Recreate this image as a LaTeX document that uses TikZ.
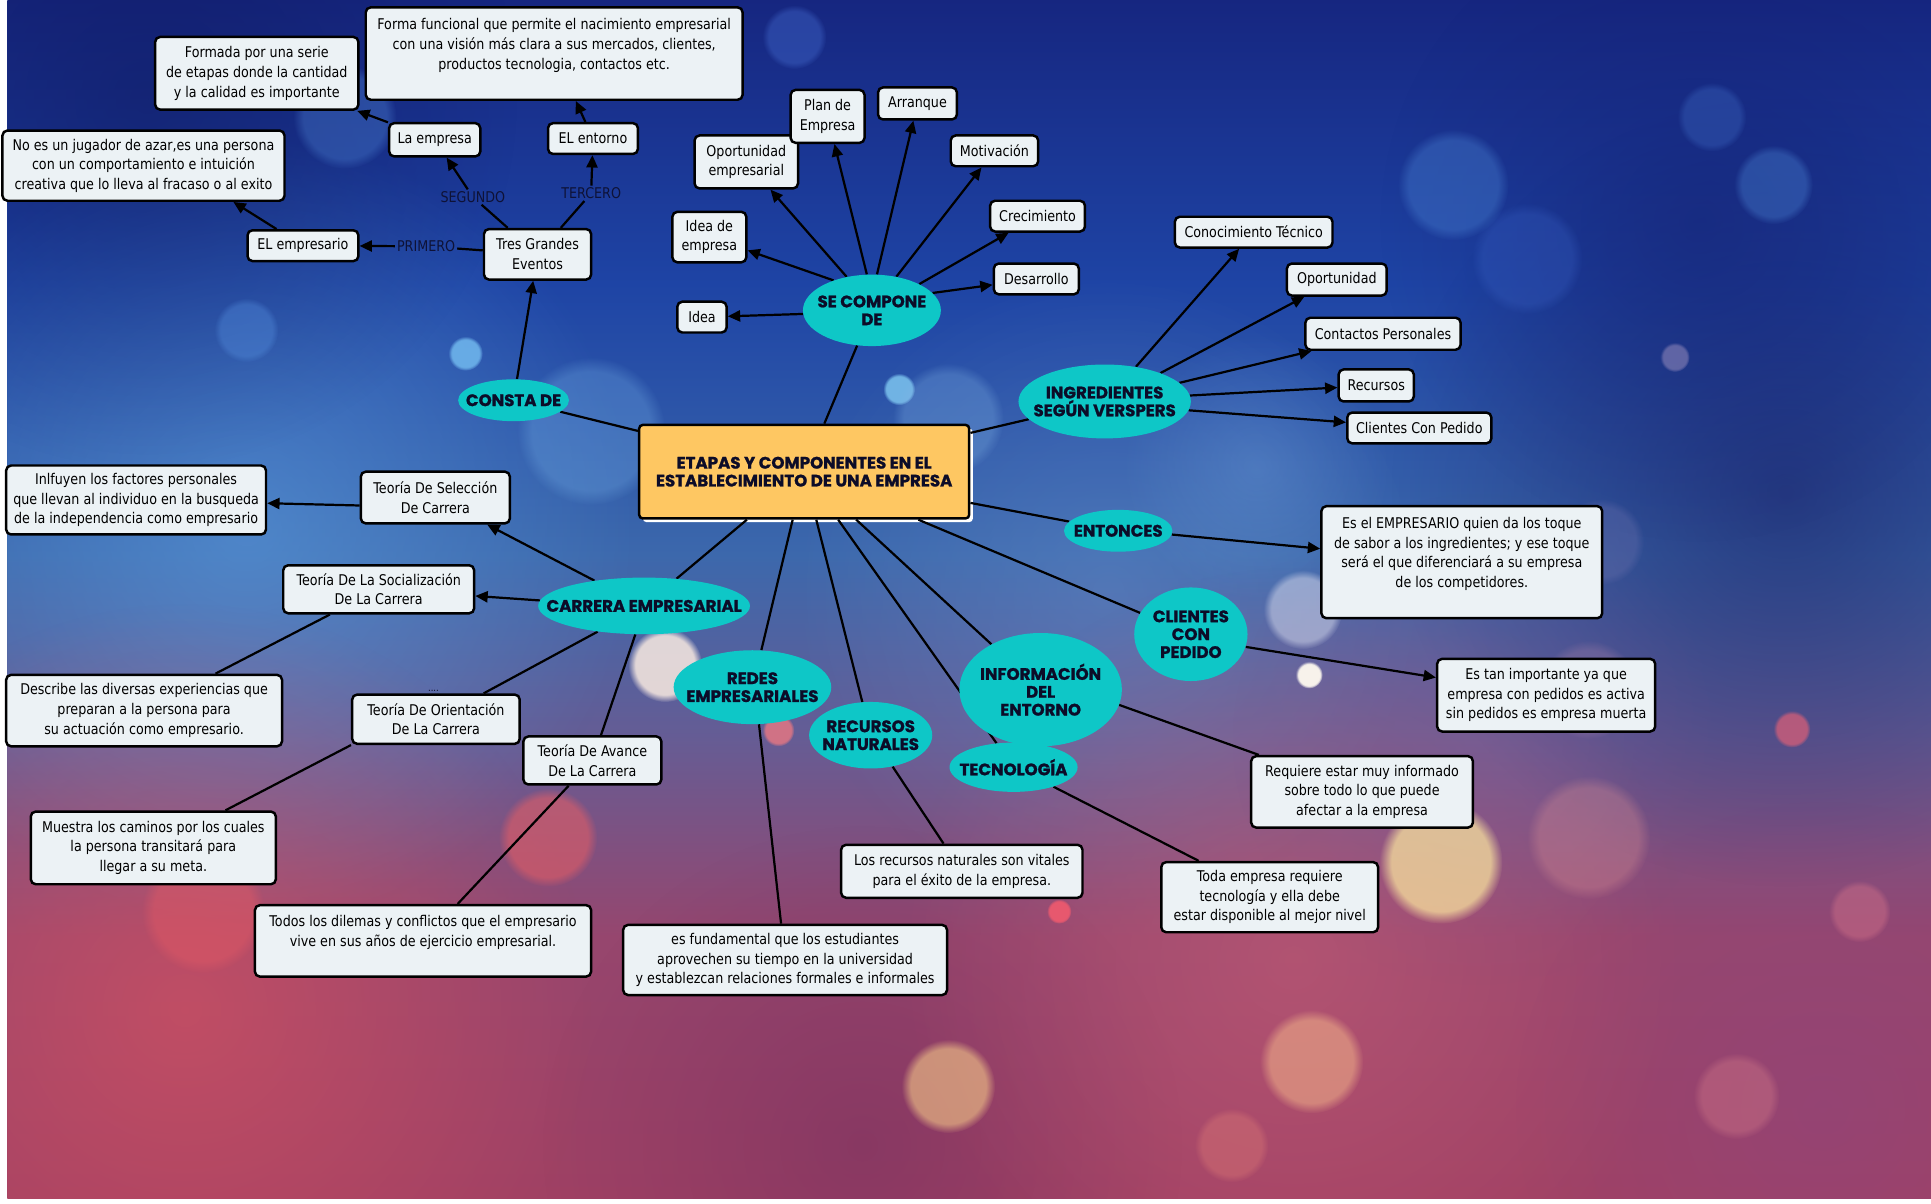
\documentclass[tikz,border=0pt]{standalone}
\usepackage{fontspec}
\setmainfont{DejaVu Sans}[FakeStretch=0.86]
\newfontfamily\elfamily{Poppins}[BoldFeatures={FakeBold=1.2}]
\usetikzlibrary{arrows.meta,shapes.geometric,fadings}
\pgfdeclareradialshading{softglowshade}{\pgfpointorigin}{color(0bp)=(pgftransparent!0); color(25bp)=(pgftransparent!100); color(50bp)=(pgftransparent!100)}
\pgfdeclarefading{softglow}{\pgfuseshading{softglowshade}}
\pgfdeclarelayer{bglayer}\pgfdeclarelayer{edgelayer}
\pgfsetlayers{bglayer,edgelayer,main}
\newcommand\boxfnt{\fontsize{12}{16}\selectfont}
\newcommand\elfnt{\elfamily\bfseries\fontsize{13.5}{14.5}\selectfont}
\newcommand\lblfnt{\fontsize{12}{13}\selectfont}
\definecolor{boxfill}{RGB}{236,242,245}
\definecolor{cy}{RGB}{14,199,199}
\definecolor{centerfill}{RGB}{254,199,98}
\definecolor{navy}{RGB}{12,12,40}
\definecolor{lblc}{RGB}{14,18,55}
\definecolor{g0}{RGB}{22,38,128}
\definecolor{g1}{RGB}{30,68,165}
\definecolor{g2}{RGB}{60,104,172}
\definecolor{g3}{RGB}{102,92,148}
\definecolor{g4}{RGB}{150,70,110}
\definecolor{g5}{RGB}{160,65,100}
\tikzset{
 tbox/.style={draw=black, line width=2pt, rounded corners=4pt, fill=boxfill, inner sep=0pt, align=center, font=\boxfnt, text=black},
 oval/.style={ellipse, fill=cy, inner sep=0pt, draw=none},
 ovtext/.style={font=\elfnt, text=navy, align=center, inner sep=0pt},
 arr/.style={line width=1.8pt, draw=black, -{Triangle[length=10pt,width=9pt]}},
 ln/.style={line width=1.8pt, draw=black},
 lbl/.style={font=\lblfnt, text=lblc, inner sep=1.5pt},
 bokeh/.style={fill={#1}, path fading=circle with fuzzy edge 20 percent},
 glow/.style={fill={#1}, path fading=softglow},
}
\begin{document}
\begin{tikzpicture}[x=1pt,y=-1pt]
\useasboundingbox (0,0) rectangle (1568,977);
\begin{pgfonlayer}{bglayer}
\fill[white] (0,0) rectangle (1568,977);
\begin{scope}
\clip (6,0) rectangle (1568,973);
\shade[top color=g0, bottom color=g1] (6,-1) rectangle (1568,231);
\shade[top color=g1, bottom color=g2] (6,230) rectangle (1568,451);
\shade[top color=g2, bottom color=g3] (6,450) rectangle (1568,601);
\shade[top color=g3, bottom color=g4] (6,600) rectangle (1568,761);
\shade[top color=g4, bottom color=g5] (6,760) rectangle (1568,974);
% soft glows
\fill[glow={rgb,255:red,95;green,160;blue,225}, fill opacity=.55] (200,430) circle (320);
\fill[glow={rgb,255:red,110;green,150;blue,210}, fill opacity=.35] (900,480) circle (260);
\fill[glow={rgb,255:red,25;green,30;blue,100}, fill opacity=.6] (1450,400) circle (320);
\fill[glow={rgb,255:red,20;green,30;blue,110}, fill opacity=.45] (1380,180) circle (260);
\fill[glow={rgb,255:red,15;green,25;blue,95}, fill opacity=.5] (120,80) circle (300);
\fill[glow={rgb,255:red,120;green,170;blue,225}, fill opacity=.3] (1020,380) circle (110);
\fill[glow={rgb,255:red,225;green,85;blue,95}, fill opacity=.55] (150,820) circle (330);
\fill[glow={rgb,255:red,110;green,45;blue,95}, fill opacity=.45] (700,930) circle (260);
\fill[glow={rgb,255:red,210;green,100;blue,120}, fill opacity=.45] (1050,780) circle (320);
\fill[glow={rgb,255:red,140;green,70;blue,130}, fill opacity=.45] (1480,900) circle (250);
\fill[glow={rgb,255:red,130;green,90;blue,150}, fill opacity=.3] (1200,600) circle (200);
% bokeh circles
\fill[bokeh={rgb,255:red,110;green,180;blue,235}, fill opacity=.9] (378,287) circle (14);
\fill[bokeh={rgb,255:red,120;green,190;blue,235}, fill opacity=.9] (730,316) circle (13);
\fill[bokeh={rgb,255:red,250;green,235;blue,225}, fill opacity=.85] (540,540) circle (30);
\fill[bokeh={rgb,255:red,255;green,250;blue,240}, fill opacity=.95] (1063,548) circle (11);
\fill[bokeh={rgb,255:red,210;green,215;blue,235}, fill opacity=.55] (1058,495) circle (32);
\fill[bokeh={rgb,255:red,235;green,95;blue,100}, fill opacity=.55] (445,680) circle (40);
\fill[bokeh={rgb,255:red,235;green,120;blue,130}, fill opacity=.8] (632,593) circle (13);
\fill[bokeh={rgb,255:red,240;green,90;blue,110}, fill opacity=.9] (860,740) circle (10);
\fill[bokeh={rgb,255:red,215;green,95;blue,120}, fill opacity=.75] (1455,592) circle (15);
\fill[bokeh={rgb,255:red,150;green,140;blue,190}, fill opacity=.55] (1360,290) circle (12);
\fill[bokeh={rgb,255:red,255;green,235;blue,160}, fill opacity=.7] (1170,700) circle (50);
\fill[bokeh={rgb,255:red,250;green,190;blue,140}, fill opacity=.5] (1065,862) circle (42);
\fill[bokeh={rgb,255:red,255;green,215;blue,140}, fill opacity=.55] (770,882) circle (38);
\fill[bokeh={rgb,255:red,220;green,130;blue,140}, fill opacity=.35] (1410,890) circle (35);
\fill[bokeh={rgb,255:red,220;green,120;blue,140}, fill opacity=.4] (1510,740) circle (25);
\fill[bokeh={rgb,255:red,230;green,90;blue,100}, fill opacity=.45] (165,740) circle (50);
\fill[bokeh={rgb,255:red,80;green,140;blue,220}, fill opacity=.35] (1180,150) circle (45);
\fill[bokeh={rgb,255:red,80;green,140;blue,220}, fill opacity=.35] (1440,150) circle (32);
\fill[bokeh={rgb,255:red,70;green,120;blue,210}, fill opacity=.3] (1390,95) circle (28);
\fill[bokeh={rgb,255:red,70;green,110;blue,210}, fill opacity=.4] (645,30) circle (26);
\fill[bokeh={rgb,255:red,90;green,150;blue,230}, fill opacity=.3] (280,95) circle (42);
\fill[bokeh={rgb,255:red,90;green,150;blue,230}, fill opacity=.35] (200,268) circle (26);
\fill[bokeh={rgb,255:red,170;green,130;blue,170}, fill opacity=.3] (1290,560) circle (40);
\fill[bokeh={rgb,255:red,130;green,180;blue,230}, fill opacity=.3] (770,340) circle (45);
\fill[bokeh={rgb,255:red,120;green,180;blue,235}, fill opacity=.3] (480,350) circle (60);
\fill[bokeh={rgb,255:red,230;green,130;blue,120}, fill opacity=.35] (1000,930) circle (30);
\fill[bokeh={rgb,255:red,230;green,150;blue,150}, fill opacity=.3] (1290,680) circle (50);
\fill[bokeh={rgb,255:red,60;green,100;blue,200}, fill opacity=.3] (1240,210) circle (45);
\fill[bokeh={rgb,255:red,120;green,120;blue,180}, fill opacity=.3] (1300,440) circle (35);
\end{scope}
\fill[white, rounded corners=3pt] (522,348) rectangle (790,424);
\end{pgfonlayer}

% ---------- central ----------
\node[draw=black, line width=2pt, rounded corners=3pt, fill=centerfill, minimum width=268pt, minimum height=76pt, inner sep=0pt, font=\elfnt, text=navy, align=center] (central) at (653,383) {ETAPAS Y COMPONENTES EN EL\\ESTABLECIMIENTO DE UNA EMPRESA};

% ---------- ellipses ----------
\node[oval, minimum width=90pt, minimum height=34pt] (consta) at (417,325) {};
\node[ovtext] (constat) at (417,325) {CONSTA DE};
\node[oval, minimum width=112pt, minimum height=58pt] (secomp) at (708,252) {};
\node[ovtext] (secompt) at (708,252) {SE COMPONE\\DE};
\node[oval, minimum width=140pt, minimum height=60pt] (ingred) at (897,326) {};
\node[ovtext] (ingredt) at (897,326) {INGREDIENTES\\SEGÚN VERSPERS};
\node[oval, minimum width=88pt, minimum height=34pt] (entonces) at (908,431) {};
\node[ovtext] (entoncest) at (908,431) {ENTONCES};
\node[oval, minimum width=92pt, minimum height=76pt] (clientes) at (967,515) {};
\node[ovtext] (clientest) at (967,515) {CLIENTES\\CON\\PEDIDO};
\node[oval, minimum width=132pt, minimum height=92pt] (info) at (845,560) {};
\node[ovtext] (infot) at (845,560) {INFORMACIÓN\\DEL\\ENTORNO};
\node[oval, minimum width=104pt, minimum height=40pt] (tecno) at (823,623) {};
\node[ovtext] (tecnot) at (823,623) {TECNOLOGÍA};
\node[oval, minimum width=100pt, minimum height=54pt] (recnat) at (707,597) {};
\node[ovtext] (recnatt) at (707,597) {RECURSOS\\NATURALES};
\node[oval, minimum width=128pt, minimum height=60pt] (redes) at (611,558) {};
\node[ovtext] (redest) at (611,558) {REDES\\EMPRESARIALES};
\node[oval, minimum width=172pt, minimum height=46pt] (carrera) at (523,492) {};
\node[ovtext] (carrerat) at (523,492) {CARRERA EMPRESARIAL};

% ---------- boxes: top left ----------
\node[tbox, minimum width=165pt, minimum height=59pt] (formada) at (208.5,59.5) {Formada por una serie\\de etapas donde la cantidad\\y la calidad es importante};
\node[tbox, minimum width=306pt, minimum height=75pt] (forma) at (450,43.5) {Forma funcional que permite el nacimiento empresarial\\con una visión más clara a sus mercados, clientes,\\productos tecnologia, contactos etc.\\\mbox{}};
\node[tbox, minimum width=229pt, minimum height=57pt] (noes) at (116.5,134.5) {No es un jugador de azar,es una persona\\con un comportamiento e intuición\\creativa que lo lleva al fracaso o al exito};
\node[tbox, minimum width=74pt, minimum height=27pt] (laempresa) at (353,113.5) {La empresa};
\node[tbox, minimum width=73pt, minimum height=25pt] (elentorno) at (481.5,112.5) {EL entorno};
\node[tbox, minimum width=90pt, minimum height=25pt] (elempresario) at (246,199.5) {EL empresario};
\node[tbox, minimum width=87pt, minimum height=41pt] (tres) at (436.5,206.5) {Tres Grandes\\Eventos};
\node[lbl] (primero) at (346,200) {PRIMERO};
\node[lbl] (segundo) at (384,160) {SEGUNDO};
\node[lbl] (tercero) at (480,157) {TERCERO};

% ---------- boxes: se compone ----------
\node[tbox, minimum width=40pt, minimum height=25pt] (idea) at (570,257.5) {Idea};
\node[tbox, minimum width=60pt, minimum height=41pt] (ideaemp) at (576,192.5) {Idea de\\empresa};
\node[tbox, minimum width=84pt, minimum height=43pt] (oport) at (606,131.5) {Oportunidad\\empresarial};
\node[tbox, minimum width=60pt, minimum height=43pt] (plan) at (672,94.5) {Plan de\\Empresa};
\node[tbox, minimum width=64pt, minimum height=26pt] (arranque) at (745,84) {Arranque};
\node[tbox, minimum width=71pt, minimum height=25pt] (motiv) at (807.5,122.5) {Motivación};
\node[tbox, minimum width=77pt, minimum height=25pt] (crec) at (842.5,175.5) {Crecimiento};
\node[tbox, minimum width=69pt, minimum height=25pt] (desarr) at (841.5,226.5) {Desarrollo};

% ---------- boxes: ingredientes ----------
\node[tbox, minimum width=128pt, minimum height=25pt] (conoc) at (1018,188.5) {Conocimiento Técnico};
\node[tbox, minimum width=81pt, minimum height=26pt] (oportunidad) at (1085.5,227) {Oportunidad};
\node[tbox, minimum width=126pt, minimum height=26pt] (contactos) at (1123,271) {Contactos Personales};
\node[tbox, minimum width=61pt, minimum height=26pt] (recursos) at (1117.5,313) {Recursos};
\node[tbox, minimum width=117pt, minimum height=25pt] (clientesped) at (1152.5,347.5) {Clientes Con Pedido};

% ---------- boxes: right / bottom ----------
\node[tbox, minimum width=228pt, minimum height=91pt] (esel) at (1187,456.5) {Es el EMPRESARIO quien da los toque\\de sabor a los ingredientes; y ese toque\\será el que diferenciará a su empresa\\de los competidores.\\\mbox{}};
\node[tbox, minimum width=177pt, minimum height=59pt] (estan) at (1255.5,564.5) {Es tan importante ya que\\empresa con pedidos es activa\\sin pedidos es empresa muerta};
\node[tbox, minimum width=180pt, minimum height=58pt] (requiere) at (1106,643) {Requiere estar muy informado\\sobre todo lo que puede\\afectar a la empresa};
\node[tbox, minimum width=176pt, minimum height=57pt] (toda) at (1031,728.5) {Toda empresa requiere\\tecnología y ella debe\\estar disponible al mejor nivel};
\node[tbox, minimum width=196pt, minimum height=43pt] (losrec) at (781,707.5) {Los recursos naturales son vitales\\para el éxito de la empresa.};
\node[tbox, minimum width=263pt, minimum height=57pt] (esfund) at (637.5,779.5) {es fundamental que los estudiantes\\aprovechen su tiempo en la universidad\\y establezcan relaciones formales e informales};

% ---------- boxes: carrera ----------
\node[tbox, minimum width=273pt, minimum height=58pt] (todos) at (343.5,764) {Todos los dilemas y conflictos que el empresario\\vive en sus años de ejercicio empresarial.\\\mbox{}};
\node[tbox, minimum width=199pt, minimum height=59pt] (muestra) at (124.5,688.5) {Muestra los caminos por los cuales\\la persona transitará para\\llegar a su meta.};
\node[tbox, minimum width=112pt, minimum height=39pt] (avance) at (481,617.5) {Teoría De Avance\\De La Carrera};
\node[tbox, minimum width=136pt, minimum height=40pt] (orient) at (354,584) {Teoría De Orientación\\De La Carrera};
\node[tbox, minimum width=224pt, minimum height=58pt] (describe) at (117,577) {Describe las diversas experiencias que\\preparan a la persona para\\su actuación como empresario.};
\node[tbox, minimum width=155pt, minimum height=39pt] (social) at (307.5,478.5) {Teoría De La Socialización\\De La Carrera};
\node[tbox, minimum width=121pt, minimum height=42pt] (selecc) at (353.5,404) {Teoría De Selección\\De Carrera};
\node[tbox, minimum width=211pt, minimum height=56pt] (inlf) at (110.5,406) {Inlfuyen los factores personales\\que llevan al individuo en la busqueda\\de la independencia como empresario};
\node[font=\fontsize{8}{9}\selectfont, text=navy, inner sep=0pt] (dots) at (352,561) {....};

% ---------- connectors ----------
\begin{pgfonlayer}{edgelayer}
\draw[ln] (central) -- (consta);
\draw[arr] (consta) -- (tres);
\draw[ln] (tres) -- (primero);
\draw[arr] (primero) -- (elempresario);
\draw[ln] (tres) -- (segundo);
\draw[arr] (segundo) -- (laempresa);
\draw[ln] (tres) -- (tercero);
\draw[arr] (tercero) -- (elentorno);
\draw[arr] (elempresario) -- (noes.-22.6);
\draw[arr] (laempresa) -- (formada);
\draw[arr] (elentorno) -- (forma);

\draw[ln] (central) -- (secomp);
\draw[arr] (secomp.183) -- (idea);
\draw[arr] (secomp.142) -- (ideaemp);
\draw[arr] (secomp.127) -- (oport);
\draw[arr] (secomp.98) -- (plan);
\draw[arr] (secomp.82) -- (arranque);
\draw[arr] (secomp.54) -- (motiv);
\draw[arr] (secomp.29) -- (crec);
\draw[arr] (secomp.16) -- (desarr);

\draw[ln] (central) -- (ingred);
\draw[arr] (ingred.48) -- (conoc);
\draw[arr] (ingred.27) -- (oportunidad);
\draw[arr] (ingred.14) -- (contactos);
\draw[arr] (ingred.4) -- (recursos);
\draw[arr] (ingred.354) -- (clientesped);

\draw[ln] (central) -- (entonces);
\draw[arr] (entonces.356) -- (esel);
\draw[ln] (central) -- (clientes);
\draw[arr] (clientes.347) -- (estan);
\draw[ln] (central) -- (info);
\draw[ln] (info.349) -- (requiere);
\draw[ln] (central) -- (tecno);
\draw[ln] (tecno.334) -- (toda);
\draw[ln] (central) -- (recnat);
\draw[ln] (recnat.305) -- (losrec);
\draw[ln] (central) -- (redes);
\draw[ln] (redes.280) -- (esfund);

\draw[ln] (central) -- (carrera);
\draw[arr] (carrera.153) -- (selecc);
\draw[arr] (carrera.177) -- (social);
\draw[ln] (carrera.209) -- (orient);
\draw[ln] (carrera.253) -- (avance);
\draw[arr] (selecc.186.6) -- (inlf);
\draw[ln] (social) -- (describe);
\draw[ln] (orient.south west) -- (muestra);
\draw[ln] (avance) -- (todos);
\end{pgfonlayer}
\end{tikzpicture}
\end{document}
